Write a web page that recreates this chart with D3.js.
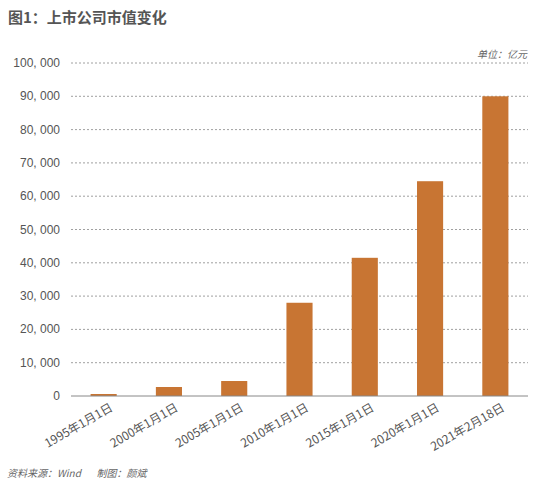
<!DOCTYPE html>
<html><head><meta charset="utf-8">
<script src="https://cdn.jsdelivr.net/npm/d3@7"></script>
<style>body{margin:0;background:#fff;font-family:"Noto Sans CJK SC","Liberation Sans",sans-serif}</style>
</head><body><div id="chart"></div>
<script>
var categories = ["1995年1月1日","2000年1月1日","2005年1月1日","2010年1月1日","2015年1月1日","2020年1月1日","2021年2月18日"]
var values = [600, 2700, 4500, 28000, 41500, 64500, 90000]
var yTicks = [0,10000,20000,30000,40000,50000,60000,70000,80000,90000,100000]

var svg = d3.select("#chart").append("svg").attr("width", 550).attr("height", 485)

svg.append("text").attr("x", 8).attr("y", 23).attr("font-size", 15).attr("font-weight", "bold")
  .attr("fill", "#555").text("图1：上市公司市值变化")

var x = d3.scaleBand().domain(categories).range([71, 528]).paddingInner(0.6).paddingOuter(0.3)
var y = d3.scaleLinear().domain([0, 100000]).range([396, 63])

// gridlines
svg.selectAll(".grid").data(yTicks.slice(1)).enter().append("line")
  .attr("x1", 71).attr("x2", 528).attr("y1", d => y(d)).attr("y2", d => y(d))
  .attr("stroke", "#888").attr("stroke-width", 0.8).attr("stroke-dasharray", "2,2")

svg.selectAll(".ylab").data(yTicks).enter().append("text")
  .attr("x", 60).attr("y", d => y(d) + 4).attr("text-anchor", "end")
  .attr("font-size", 12).attr("fill", "#555").attr("font-family", "Liberation Sans")
  .text(d => d3.format(",")(d).replace(/,/g, ", "))

svg.selectAll(".bar").data(values).enter().append("rect")
  .attr("x", (d, i) => x(categories[i])).attr("width", x.bandwidth())
  .attr("y", d => y(d)).attr("height", d => y(0) - y(d))
  .attr("fill", "#c87533")

svg.append("line").attr("x1", 71).attr("x2", 528).attr("y1", y(0)).attr("y2", y(0))
  .attr("stroke", "#888").attr("stroke-width", 1)

svg.selectAll(".xlab").data(categories).enter().append("text")
  .attr("transform", d => "translate(" + (x(d) + x.bandwidth() / 2 + 10) + "," + 410 + ") rotate(-30)")
  .attr("text-anchor", "end").attr("font-size", 12).attr("fill", "#555").text(d => d)

svg.append("text").attr("x", 527).attr("y", 58).attr("text-anchor", "end")
  .attr("font-size", 10).attr("font-style", "italic").attr("fill", "#666").text("单位：亿元")

svg.append("text").attr("x", 7).attr("y", 477).attr("font-size", 10).attr("font-style", "italic")
  .attr("fill", "#666").attr("xml:space", "preserve").text("资料来源：Wind       制图：颜斌")
</script></body></html>
